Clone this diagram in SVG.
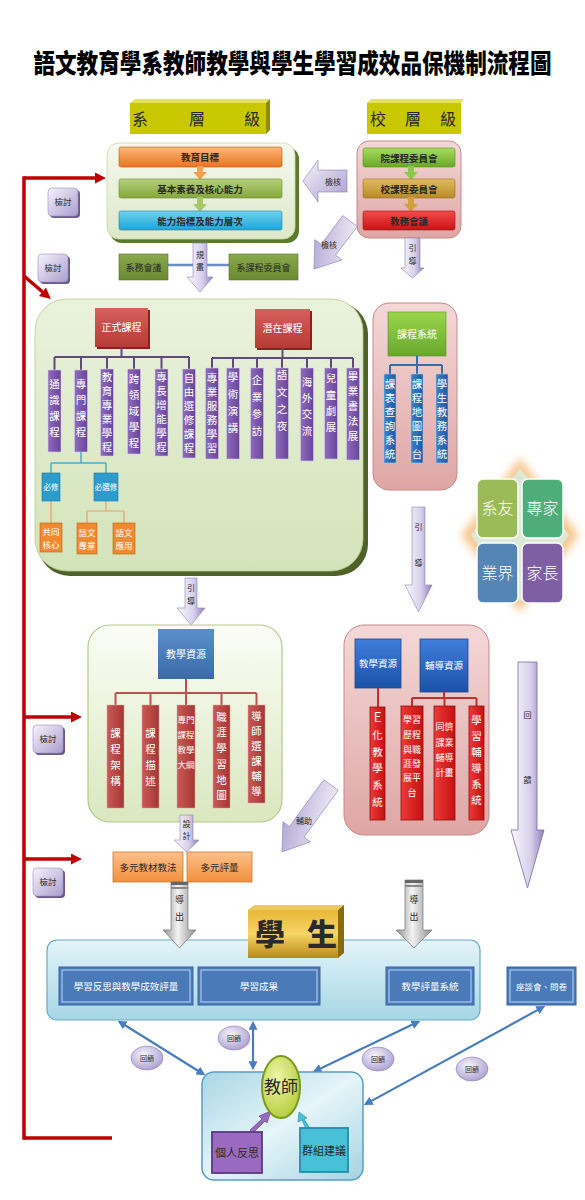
<svg xmlns="http://www.w3.org/2000/svg" width="585" height="1200" viewBox="0 0 585 1200">
<style>
text{font-family:"Noto Sans CJK TC","Noto Sans CJK SC",sans-serif;}
.w{fill:#fff;text-anchor:middle}
.d{fill:#2a2a2a;text-anchor:middle}
.vt{fill:#fff;text-anchor:middle;font-size:10.5px}
.col{stroke:#d8cce8;stroke-width:0.6}
</style>
<defs>
<linearGradient id="lav" x1="0" y1="0" x2="1" y2="1"><stop offset="0" stop-color="#f7f4fc"/><stop offset="1" stop-color="#a99dce"/></linearGradient>
<linearGradient id="lavH" x1="0" x2="1"><stop offset="0" stop-color="#fbf9fe"/><stop offset="0.6" stop-color="#d6cfea"/><stop offset="1" stop-color="#8f80bd"/></linearGradient>
<linearGradient id="gray" x1="0" x2="1"><stop offset="0" stop-color="#8c8c8c"/><stop offset="0.45" stop-color="#f4f4f4"/><stop offset="1" stop-color="#8c8c8c"/></linearGradient>
<linearGradient id="gLt" x1="0" y1="0" x2="0" y2="1"><stop offset="0" stop-color="#f6f9ef"/><stop offset="1" stop-color="#dde8c8"/></linearGradient>
<linearGradient id="gBig" x1="0" y1="0" x2="0" y2="1"><stop offset="0" stop-color="#eaf2dd"/><stop offset="1" stop-color="#d3e3b9"/></linearGradient>
<linearGradient id="gLt2" x1="0" y1="0" x2="0" y2="1"><stop offset="0" stop-color="#fbfdf6"/><stop offset="1" stop-color="#dae7bf"/></linearGradient>
<linearGradient id="pink" x1="0" y1="0" x2="0" y2="1"><stop offset="0" stop-color="#f3d8d7"/><stop offset="1" stop-color="#dea6a5"/></linearGradient>
<linearGradient id="sky" x1="0" y1="0" x2="0" y2="1"><stop offset="0" stop-color="#e3f4f9"/><stop offset="1" stop-color="#a6d6e5"/></linearGradient>
<linearGradient id="teach" x1="0" y1="0" x2="1" y2="1"><stop offset="0" stop-color="#a8d6e4"/><stop offset="0.5" stop-color="#e6f5f9"/><stop offset="1" stop-color="#a3d3e2"/></linearGradient>
<linearGradient id="oBar" x1="0" y1="0" x2="0" y2="1"><stop offset="0" stop-color="#fcb879"/><stop offset="1" stop-color="#ea7420"/></linearGradient>
<linearGradient id="gBar" x1="0" y1="0" x2="0" y2="1"><stop offset="0" stop-color="#b5d07a"/><stop offset="1" stop-color="#86a83e"/></linearGradient>
<linearGradient id="cBar" x1="0" y1="0" x2="0" y2="1"><stop offset="0" stop-color="#6fd2f0"/><stop offset="1" stop-color="#1fa5d5"/></linearGradient>
<linearGradient id="ygBar" x1="0" y1="0" x2="0" y2="1"><stop offset="0" stop-color="#a8dc60"/><stop offset="1" stop-color="#68a828"/></linearGradient>
<linearGradient id="goBar" x1="0" y1="0" x2="0" y2="1"><stop offset="0" stop-color="#e2bc60"/><stop offset="1" stop-color="#b88a28"/></linearGradient>
<linearGradient id="rBar" x1="0" y1="0" x2="0" y2="1"><stop offset="0" stop-color="#f44a4a"/><stop offset="1" stop-color="#c81414"/></linearGradient>
<linearGradient id="rBox" x1="0" y1="0" x2="0" y2="1"><stop offset="0" stop-color="#d6605c"/><stop offset="1" stop-color="#b83a36"/></linearGradient>
<linearGradient id="purp" x1="0" x2="1"><stop offset="0" stop-color="#8e6cbc"/><stop offset="1" stop-color="#6a449c"/></linearGradient>
<linearGradient id="bCol" x1="0" x2="1"><stop offset="0" stop-color="#3a82cc"/><stop offset="1" stop-color="#1f5aa0"/></linearGradient>
<linearGradient id="grBox" x1="0" y1="0" x2="0" y2="1"><stop offset="0" stop-color="#9ad64c"/><stop offset="1" stop-color="#68a82c"/></linearGradient>
<linearGradient id="bBox" x1="0" y1="0" x2="0" y2="1"><stop offset="0" stop-color="#5b8fcc"/><stop offset="1" stop-color="#3a6aa8"/></linearGradient>
<linearGradient id="bBox2" x1="0" y1="0" x2="0" y2="1"><stop offset="0" stop-color="#3f7edc"/><stop offset="1" stop-color="#1c52a8"/></linearGradient>
<linearGradient id="rCol" x1="0" x2="1"><stop offset="0" stop-color="#c85a56"/><stop offset="1" stop-color="#a63634"/></linearGradient>
<linearGradient id="rCol2" x1="0" x2="1"><stop offset="0" stop-color="#f03838"/><stop offset="1" stop-color="#c41212"/></linearGradient>
<linearGradient id="o2" x1="0" y1="0" x2="0" y2="1"><stop offset="0" stop-color="#fcc08a"/><stop offset="1" stop-color="#f2903e"/></linearGradient>
<linearGradient id="gold" x1="0" y1="0" x2="0" y2="1"><stop offset="0" stop-color="#e8b838"/><stop offset="0.5" stop-color="#f6d466"/><stop offset="1" stop-color="#b88a18"/></linearGradient>
<linearGradient id="olive" x1="0" y1="0" x2="0" y2="1"><stop offset="0" stop-color="#8aa84c"/><stop offset="1" stop-color="#6a8a30"/></linearGradient>
<radialGradient id="lavR" cx="0.4" cy="0.35" r="0.7"><stop offset="0" stop-color="#f6f3fb"/><stop offset="1" stop-color="#aa9ecf"/></radialGradient>
<radialGradient id="teacher" cx="0.4" cy="0.35" r="0.7"><stop offset="0" stop-color="#eef6a8"/><stop offset="1" stop-color="#b4cc3a"/></radialGradient>
<filter id="blur" x="-20%" y="-20%" width="140%" height="140%"><feGaussianBlur stdDeviation="4"/></filter>
<marker id="rh" viewBox="0 0 10 10" refX="3" refY="5" markerWidth="11" markerHeight="11" markerUnits="userSpaceOnUse" orient="auto"><path d="M0,0 L10,5 L0,10 z" fill="#c00000"/></marker>
<marker id="bh" viewBox="0 0 10 10" refX="3" refY="5" markerWidth="9" markerHeight="9" markerUnits="userSpaceOnUse" orient="auto-start-reverse"><path d="M0,0 L10,5 L0,10 z" fill="#4a7cc0"/></marker>
</defs>

<rect width="585" height="1200" fill="#fff"/>

<g id="title">
<text x="292.5" y="61" transform="scale(1,1.2)" font-size="21.6" font-weight="900" fill="#000" text-anchor="middle">語文教育學系教師教學與學生學習成效品保機制流程圖</text>
</g>

<!-- connectors -->
<g id="connectors">
<g fill="none" stroke="#c00000" stroke-width="3.5">
<path d="M24,178 V1138" stroke-linecap="square"/>
<line x1="24" y1="178" x2="98.3" y2="178" marker-end="url(#rh)"/>
<line x1="24" y1="276" x2="45" y2="294" marker-end="url(#rh)"/>
<line x1="24" y1="717" x2="74.3" y2="717" marker-end="url(#rh)"/>
<line x1="24" y1="859" x2="74.3" y2="859" marker-end="url(#rh)"/>
<line x1="24" y1="1138" x2="112" y2="1138"/>
</g>
<g fill="none" stroke="#4a7cc0" stroke-width="2.2">
<line x1="123" y1="1024" x2="200" y2="1072" marker-start="url(#bh)" marker-end="url(#bh)"/>
<line x1="253" y1="1027" x2="253" y2="1064" marker-start="url(#bh)" marker-end="url(#bh)"/>
<line x1="414.6" y1="1023.6" x2="318.4" y2="1069.4" marker-start="url(#bh)" marker-end="url(#bh)"/>
<line x1="539.7" y1="1008.9" x2="369.3" y2="1102.1" marker-start="url(#bh)" marker-end="url(#bh)"/>
</g>
</g>

<g id="review-labels" font-size="8.5">
<rect x="50" y="190" width="30" height="28" rx="4" fill="#6a5a8a"/>
<rect x="48" y="188" width="30" height="28" rx="4" fill="url(#lav)" stroke="#9a8ec0" stroke-width="0.6"/>
<text x="63" y="205" class="d">檢討</text>
<rect x="40" y="256" width="30" height="28" rx="4" fill="#6a5a8a"/>
<rect x="38" y="254" width="30" height="28" rx="4" fill="url(#lav)" stroke="#9a8ec0" stroke-width="0.6"/>
<text x="53" y="271" class="d">檢討</text>
<rect x="35" y="727" width="30" height="28" rx="4" fill="#6a5a8a"/>
<rect x="33" y="725" width="30" height="28" rx="4" fill="url(#lav)" stroke="#9a8ec0" stroke-width="0.6"/>
<text x="48" y="742" class="d">檢討</text>
<rect x="35" y="870" width="30" height="28" rx="4" fill="#6a5a8a"/>
<rect x="33" y="868" width="30" height="28" rx="4" fill="url(#lav)" stroke="#9a8ec0" stroke-width="0.6"/>
<text x="48" y="885" class="d">檢討</text>
</g>

<g id="dept-level">
<polygon points="130,103 135,99 270,99 266,103" fill="#e4e35a"/>
<polygon points="266,103 270,99 270,130 266,134" fill="#8f8e00"/>
<rect x="130" y="103" width="136" height="31" fill="#c9c800"/>
<g font-size="16"><text x="140" y="125" class="d">系</text><text x="197" y="125" class="d">層</text><text x="252" y="125" class="d">級</text></g>
</g>

<g id="school-level">
<polygon points="367,103 371,99 464,99 461,103" fill="#e4e35a"/>
<rect x="367" y="103" width="94" height="31" fill="#c9c800"/>
<g font-size="16"><text x="378" y="125" class="d">校</text><text x="413" y="125" class="d">層</text><text x="448" y="125" class="d">級</text></g>
</g>

<g id="dept-box">
<rect x="110" y="147" width="189" height="96" rx="12" fill="#5c7a2e"/>
<rect x="107" y="143" width="188" height="96" rx="12" fill="url(#gLt)" stroke="#c8d8a8" stroke-width="0.8"/>
<rect x="119" y="147" width="163" height="20" rx="2" fill="url(#oBar)" stroke="#c05a10" stroke-width="0.6"/>
<text x="200" y="161" class="d" font-size="9.5" font-weight="bold">教育目標</text>
<path d="M197,166 H203 V172 H207 L200,180 L193,172 H197 Z" fill="#f5a050"/>
<rect x="119" y="179" width="163" height="19" rx="2" fill="url(#gBar)" stroke="#6a8a30" stroke-width="0.6"/>
<text x="200" y="192.5" class="d" font-size="9.5" font-weight="bold">基本素養及核心能力</text>
<path d="M197,197 H203 V204 H207 L200,212 L193,204 H197 Z" fill="#a8c868"/>
<rect x="119" y="211" width="163" height="19" rx="2" fill="url(#cBar)" stroke="#1a85b0" stroke-width="0.6"/>
<text x="200" y="224.5" class="d" font-size="9.5" font-weight="bold">能力指標及能力層次</text>
</g>

<g id="school-box">
<rect x="357" y="141" width="104" height="97" rx="12" fill="url(#pink)" stroke="#c88a8a" stroke-width="1"/>
<rect x="363" y="148" width="92" height="19" rx="2" fill="url(#ygBar)" stroke="#5a9020" stroke-width="0.6"/>
<text x="409" y="161.5" class="d" font-size="9.5" font-weight="bold">院課程委員會</text>
<path d="M408,166 H414 V172 H418 L411,180 L404,172 H408 Z" fill="#8cc850"/>
<rect x="363" y="179" width="92" height="19" rx="2" fill="url(#goBar)" stroke="#9a7020" stroke-width="0.6"/>
<text x="409" y="192.5" class="d" font-size="9.5" font-weight="bold">校課程委員會</text>
<path d="M408,197 H414 V204 H418 L411,212 L404,204 H408 Z" fill="#d0a040"/>
<rect x="363" y="211" width="92" height="19" rx="2" fill="url(#rBar)" stroke="#a01010" stroke-width="0.6"/>
<text x="409" y="224.5" class="d" font-size="9.5" font-weight="bold">教務會議</text>
</g>

<g id="check-arrow-1">
<path d="M347,170 V192 H318 V202 L303,181 L318,160 V170 Z" fill="url(#lav)" stroke="#8a7fb5" stroke-width="0.6"/>
<text x="333" y="184.5" class="d" font-size="8">檢核</text>
</g>
<g id="check-arrow-2">
<path transform="translate(350,221) rotate(126.87)" d="M0,-9 H36 V-17 L60,0 L36,17 V9 H0 Z" fill="url(#lav)" stroke="#8a7fb5" stroke-width="0.6"/>
<text x="329" y="248" class="d" font-size="8">檢核</text>
</g>
<g id="guide-arrow-1">
<path d="M405,238 H420 V268 H424 L412.5,278 L401,268 H405 Z" fill="url(#lavH)" stroke="#8a7fb5" stroke-width="0.6"/>
<text x="412.5" y="251" class="d" font-size="8">引</text>
<text x="412.5" y="264" class="d" font-size="8">導</text>
</g>

<g id="dept-meeting">
<line x1="168" y1="265" x2="229" y2="265" stroke="#6a8fc8" stroke-width="2.5"/>
<rect x="119" y="254" width="49" height="26" fill="url(#olive)" stroke="#5a7028" stroke-width="0.6"/>
<text x="143.5" y="270.5" class="d" font-size="9">系務會議</text>
<rect x="229" y="254" width="69" height="26" fill="url(#olive)" stroke="#5a7028" stroke-width="0.6"/>
<text x="263.5" y="270.5" class="d" font-size="9">系課程委員會</text>
</g>
<g id="plan-arrow">
<path d="M193,243 H207 V277 H213 L200,292 L187,277 H193 Z" fill="url(#lavH)" stroke="#8a7fb5" stroke-width="0.6"/>
<text x="200" y="258" class="d" font-size="8">規</text>
<text x="200" y="270" class="d" font-size="8">畫</text>
</g>

<g id="curriculum-box">
<rect x="38" y="302" width="330" height="274" rx="32" fill="#4f6228"/>
<rect x="35" y="299" width="328" height="272" rx="32" fill="url(#gBig)" stroke="#b8cc90" stroke-width="0.8"/>
</g>

<g id="formal">
<rect x="97" y="310" width="53" height="39" fill="#8a2020"/>
<rect x="95" y="308" width="53" height="39" fill="url(#rBox)"/>
<text x="121.5" y="331" class="w" font-size="10">正式課程</text>
<path d="M121.5,347 V357 M54.5,357 H189 M54.5,357 V370 M81,357 V370 M107,357 V369 M134,357 V369 M161.5,357 V369 M189,357 V369" fill="none" stroke="#604a7b" stroke-width="2"/>
<rect x="48" y="370" width="13" height="82" fill="url(#purp)" class="col"/>
<text class="vt" x="54.5 54.5 54.5 54.5" y="388 404 420 436">通識課程</text>
<rect x="74.5" y="370" width="13" height="82" fill="url(#purp)" class="col"/>
<text class="vt" x="81 81 81 81" y="388 404 420 436">專門課程</text>
<rect x="100.5" y="369" width="13" height="87" fill="url(#purp)" class="col"/>
<text class="vt" x="107 107 107 107 107 107" y="381 395 409 423 437 451">教育專業學程</text>
<rect x="127.5" y="369" width="13" height="85" fill="url(#purp)" class="col"/>
<text class="vt" x="134 134 134 134 134" y="383 399 415 431 447">跨領域學程</text>
<rect x="155" y="369" width="13" height="87" fill="url(#purp)" class="col"/>
<text class="vt" x="161.5 161.5 161.5 161.5 161.5 161.5" y="381 395 409 423 437 451">專長增能學程</text>
<rect x="182.5" y="369" width="13" height="89" fill="url(#purp)" class="col"/>
<text class="vt" x="189 189 189 189 189 189" y="382 396 410 424 438 452">自由選修課程</text>
</g>

<g id="hidden">
<rect x="257" y="311" width="55" height="39" fill="#8a2020"/>
<rect x="255" y="309" width="55" height="39" fill="url(#rBox)"/>
<text x="282.5" y="332" class="w" font-size="10">潛在課程</text>
<path d="M282.5,348 V358 M212,358 H353 M212,358 V368 M233,358 V368 M257,358 V368 M282,358 V368 M307,358 V368 M331,358 V368 M353,358 V368" fill="none" stroke="#604a7b" stroke-width="2"/>
<rect x="205.5" y="368" width="13" height="91" fill="url(#purp)" class="col"/>
<text class="vt" x="212 212 212 212 212 212" y="382 396 410 424 438 452">專業服務學習</text>
<rect x="226.5" y="368" width="13" height="91" fill="url(#purp)" class="col"/>
<text class="vt" x="233 233 233 233" y="381 398 415 432">學術演講</text>
<rect x="250.5" y="368" width="13" height="91" fill="url(#purp)" class="col"/>
<text class="vt" x="257 257 257 257" y="384 401 418 435">企業參訪</text>
<rect x="275.5" y="368" width="13" height="91" fill="url(#purp)" class="col"/>
<text class="vt" x="282 282 282 282" y="379 396 413 430">語文之夜</text>
<rect x="300.5" y="368" width="13" height="93" fill="url(#purp)" class="col"/>
<text class="vt" x="307 307 307 307" y="386 402 418 435">海外交流</text>
<rect x="324.5" y="368" width="13" height="91" fill="url(#purp)" class="col"/>
<text class="vt" x="331 331 331 331" y="382 399 415 431">兒童劇展</text>
<rect x="346.5" y="368" width="13" height="92" fill="url(#purp)" class="col"/>
<text class="vt" x="353 353 353 353 353" y="380 395 410 425 440">畢業書法展</text>
</g>

<g id="required">
<path d="M81,452 V463 M51,463 H106 M51,463 V473 M106,463 V473" fill="none" stroke="#4bacc6" stroke-width="1.5"/>
<path d="M51,501 V523 M106,501 V511 M87,511 H124 M87,511 V523 M124,511 V523" fill="none" stroke="#e8a060" stroke-width="1.2"/>
<rect x="42" y="473" width="18" height="28" fill="#2c9ccc" stroke="#1a7aa8" stroke-width="0.6"/>
<text x="51" y="490" class="w" font-size="7.5">必修</text>
<rect x="94" y="473" width="24" height="28" fill="#2c9ccc" stroke="#1a7aa8" stroke-width="0.6"/>
<text x="106" y="490" class="w" font-size="7.5">必選修</text>
<rect x="40" y="523" width="22" height="29" fill="#f08a30" stroke="#c06010" stroke-width="0.6"/>
<text x="51" y="535" class="w" font-size="8.5">共同</text>
<text x="51" y="548" class="w" font-size="8.5">核心</text>
<rect x="77" y="523" width="20" height="31" fill="#f08a30" stroke="#c06010" stroke-width="0.6"/>
<text x="87" y="536" class="w" font-size="8.5">語文</text>
<text x="87" y="549" class="w" font-size="8.5">專業</text>
<rect x="113" y="523" width="22" height="31" fill="#f08a30" stroke="#c06010" stroke-width="0.6"/>
<text x="124" y="536" class="w" font-size="8.5">語文</text>
<text x="124" y="549" class="w" font-size="8.5">應用</text>
</g>

<g id="course-system">
<rect x="373" y="303" width="84" height="187" rx="16" fill="url(#pink)" stroke="#c88a8a" stroke-width="1"/>
<rect x="388" y="312" width="58" height="44" fill="url(#grBox)" stroke="#5a9020" stroke-width="0.6"/>
<text x="417" y="338" class="w" font-size="10">課程系統</text>
<path d="M417,356 V365 M390,365 H442 M390,365 V374 M417,365 V374 M442,365 V374" fill="none" stroke="#2e6fb0" stroke-width="2"/>
<rect x="384" y="374" width="12" height="89" fill="url(#bCol)" stroke="#a8c8e8" stroke-width="0.6"/>
<text class="vt" x="390 390 390 390 390 390" y="388 402 416 430 444 458">課表查詢系統</text>
<rect x="411" y="374" width="12" height="89" fill="url(#bCol)" stroke="#a8c8e8" stroke-width="0.6"/>
<text class="vt" x="417 417 417 417 417 417" y="388 402 416 430 444 458">課程地圖平台</text>
<rect x="436" y="374" width="12" height="89" fill="url(#bCol)" stroke="#a8c8e8" stroke-width="0.6"/>
<text class="vt" x="442 442 442 442 442 442" y="388 402 416 430 444 458">學生教務系統</text>
</g>

<g id="guide-arrow-2">
<path d="M412,507 H425 V585 H432 L418.5,612 L405,585 H412 Z" fill="url(#lavH)" stroke="#8a7fb5" stroke-width="0.6"/>
<text x="418.5" y="530" class="d" font-size="8">引</text>
<text x="418.5" y="566" class="d" font-size="8">導</text>
</g>

<g id="stakeholders">
<polygon points="520,458 579,535 520,612 461,535" fill="#f8c890" filter="url(#blur)"/>
<polygon points="520,468 569,535 520,602 471,535" fill="#dde8d6"/>
<rect x="477" y="479" width="41" height="59" rx="6" fill="#9bbb59" stroke="#fff" stroke-width="1.5"/>
<text x="497.5" y="514" class="w" font-size="16" font-weight="300">系友</text>
<rect x="522" y="479" width="41" height="59" rx="6" fill="#4fad7a" stroke="#fff" stroke-width="1.5"/>
<text x="542.5" y="514" class="w" font-size="16" font-weight="300">專家</text>
<rect x="477" y="543" width="41" height="60" rx="6" fill="#5585b5" stroke="#fff" stroke-width="1.5"/>
<text x="497.5" y="579" class="w" font-size="16" font-weight="300">業界</text>
<rect x="522" y="543" width="41" height="60" rx="6" fill="#7f5fa3" stroke="#fff" stroke-width="1.5"/>
<text x="542.5" y="579" class="w" font-size="16" font-weight="300">家長</text>
</g>

<g id="guide-arrow-3">
<path d="M185,578 H197 V608 H205 L191,625 L177,608 H185 Z" fill="url(#lavH)" stroke="#8a7fb5" stroke-width="0.6"/>
<text x="191" y="591" class="d" font-size="8">引</text>
<text x="191" y="604" class="d" font-size="8">導</text>
</g>

<g id="teaching-resources">
<rect x="88" y="625" width="194" height="197" rx="22" fill="url(#gLt2)" stroke="#b5c98a" stroke-width="1.2"/>
<rect x="158" y="629" width="56" height="50" fill="url(#bBox)"/>
<text x="186" y="658" class="w" font-size="10">教學資源</text>
<path d="M186,679 V693 M115.5,693 H256.5 M115.5,693 V705 M150.5,693 V705 M186,693 V705 M221.5,693 V705 M256.5,693 V705" fill="none" stroke="#c0504d" stroke-width="2"/>
<rect x="107" y="705" width="17" height="103" fill="url(#rCol)" stroke="#e0a0a0" stroke-width="0.5"/>
<text class="vt" x="115.5 115.5 115.5 115.5" y="737 753 769 785">課程架構</text>
<rect x="142" y="705" width="17" height="103" fill="url(#rCol)" stroke="#e0a0a0" stroke-width="0.5"/>
<text class="vt" x="150.5 150.5 150.5 150.5" y="737 753 769 785">課程描述</text>
<rect x="177" y="705" width="18" height="103" fill="url(#rCol)" stroke="#e0a0a0" stroke-width="0.5"/>
<g font-size="8.5"><text x="186" y="723" class="w">專門</text><text x="186" y="738" class="w">課程</text><text x="186" y="753" class="w">教學</text><text x="186" y="768" class="w">大綱</text></g>
<rect x="213" y="705" width="17" height="103" fill="url(#rCol)" stroke="#e0a0a0" stroke-width="0.5"/>
<text class="vt" x="221.5 221.5 221.5 221.5 221.5 221.5" y="721 736 752 768 784 799">職涯學習地圖</text>
<rect x="248" y="705" width="17" height="98" fill="url(#rCol)" stroke="#e0a0a0" stroke-width="0.5"/>
<text class="vt" x="256.5 256.5 256.5 256.5 256.5 256.5" y="720 735 750 765 780 795">導師選課輔導</text>
</g>

<g id="support-resources">
<rect x="344" y="625" width="145" height="210" rx="20" fill="url(#pink)" stroke="#c88a8a" stroke-width="1"/>
<rect x="355" y="639" width="46" height="49" fill="url(#bBox2)" stroke="#1a4a90" stroke-width="0.8"/>
<text x="378" y="667" class="w" font-size="9.5">教學資源</text>
<rect x="420" y="639" width="48" height="53" fill="url(#bBox2)" stroke="#1a4a90" stroke-width="0.8"/>
<text x="444" y="669" class="w" font-size="9.5">輔導資源</text>
<path d="M378,688 V707 M444,692 V698 M412,698 H476.5 M412,698 V706 M444.5,698 V706 M476.5,698 V706" fill="none" stroke="#c03030" stroke-width="2"/>
<rect x="370" y="707" width="15" height="113" fill="url(#rCol2)" stroke="#901010" stroke-width="0.8"/>
<text x="377.5" y="722" class="w" font-size="13">E</text>
<text class="vt" x="377.5 377.5 377.5 377.5 377.5" y="739 756 772 789 806" font-size="11">化教學系統</text>
<rect x="401" y="706" width="22" height="114" fill="url(#rCol2)" stroke="#901010" stroke-width="0.8"/>
<g font-size="9"><text x="412" y="723" class="w">學習</text><text x="412" y="738" class="w">歷程</text><text x="412" y="753" class="w">與職</text><text x="412" y="767" class="w">涯發</text><text x="412" y="781" class="w">展平</text><text x="412" y="796" class="w">台</text></g>
<rect x="434" y="706" width="21" height="114" fill="url(#rCol2)" stroke="#901010" stroke-width="0.8"/>
<g font-size="9"><text x="444.5" y="730" class="w">同儕</text><text x="444.5" y="746" class="w">課業</text><text x="444.5" y="761" class="w">輔導</text><text x="444.5" y="776" class="w">計畫</text></g>
<rect x="469" y="706" width="15" height="114" fill="url(#rCol2)" stroke="#901010" stroke-width="0.8"/>
<text class="vt" x="476.5 476.5 476.5 476.5 476.5 476.5" y="724 740 756 772 788 804">學習輔導系統</text>
</g>

<g id="feedback-arrow">
<path d="M518,662 H537 V830 H544 L527.5,888 L511,830 H518 Z" fill="url(#lavH)" stroke="#7a6aa8" stroke-width="0.8"/>
<text x="527.5" y="718" class="d" font-size="8">回</text>
<text x="527.5" y="783" class="d" font-size="8">饋</text>
</g>

<g id="assist-arrow">
<path transform="translate(331,785) rotate(126.2)" d="M0,-9 H58 V-17 L83,0 L58,17 V9 H0 Z" fill="url(#lav)" stroke="#8a7fb5" stroke-width="0.6"/>
<text x="304" y="824" class="d" font-size="8">輔助</text>
</g>

<g id="design-arrow">
<path d="M180,815 H193 V840 H199 L186.5,852 L174,840 H180 Z" fill="url(#lavH)" stroke="#8a7fb5" stroke-width="0.6"/>
<text x="186.5" y="827" class="d" font-size="8">設</text>
<text x="186.5" y="839" class="d" font-size="8">計</text>
</g>

<g id="methods">
<rect x="113" y="852" width="70" height="30" fill="url(#o2)" stroke="#d07a30" stroke-width="0.8"/>
<text x="148" y="871" class="d" font-size="9.5">多元教材教法</text>
<rect x="187" y="852" width="65" height="30" fill="url(#o2)" stroke="#d07a30" stroke-width="0.8"/>
<text x="219.5" y="871" class="d" font-size="9.5">多元評量</text>
</g>

<g id="student">
<rect x="47" y="940" width="433" height="80" rx="10" fill="url(#sky)" stroke="#6aaac8" stroke-width="1.2"/>
<rect x="59" y="967" width="134" height="38" fill="#4a7ab8" stroke="#3a62a0"/>
<rect x="62" y="970" width="128" height="32" fill="none" stroke="#a9c8ee" stroke-width="1.2"/>
<text x="126" y="990" class="w" font-size="9.5">學習反思與教學成效評量</text>
<rect x="198" y="967" width="122" height="38" fill="#4a7ab8" stroke="#3a62a0"/>
<rect x="201" y="970" width="116" height="32" fill="none" stroke="#a9c8ee" stroke-width="1.2"/>
<text x="259" y="990" class="w" font-size="9.5">學習成果</text>
<rect x="386" y="967" width="88" height="38" fill="#4a7ab8" stroke="#3a62a0"/>
<rect x="389" y="970" width="82" height="32" fill="none" stroke="#a9c8ee" stroke-width="1.2"/>
<text x="430" y="990" class="w" font-size="9.5">教學評量系統</text>
</g>
<g id="survey">
<rect x="507" y="967" width="69" height="38" fill="#4a7ab8" stroke="#3a62a0"/>
<rect x="510" y="970" width="63" height="32" fill="none" stroke="#a9c8ee" stroke-width="1.2"/>
<text x="541.5" y="990" class="w" font-size="8.5">座談會、問卷</text>
</g>

<g id="export-arrows">
<path d="M171,882 H188 V930 H196 L179.5,948 L163,930 H171 Z" fill="url(#gray)" stroke="#777" stroke-width="0.7"/>
<rect x="171" y="882" width="17" height="3" fill="#666"/>
<rect x="171" y="887" width="17" height="2" fill="#888"/>
<text x="179.5" y="903" class="d" font-size="9">導</text>
<text x="179.5" y="920" class="d" font-size="9">出</text>
<path d="M405,880 H423 V930 H432 L414,948 L396,930 H405 Z" fill="url(#gray)" stroke="#777" stroke-width="0.7"/>
<rect x="405" y="880" width="18" height="3" fill="#666"/>
<rect x="405" y="885" width="18" height="2" fill="#888"/>
<text x="414" y="903" class="d" font-size="9">導</text>
<text x="414" y="920" class="d" font-size="9">出</text>
</g>

<g id="student-title">
<polygon points="248,910 254,905 344,905 338,910" fill="#ecc860"/>
<polygon points="338,910 344,905 344,953 338,958" fill="#8a6a10"/>
<rect x="248" y="910" width="90" height="48" fill="url(#gold)"/>
<text x="270" y="945" class="d" font-size="30" font-weight="900" fill="#111">學</text>
<text x="322" y="945" class="d" font-size="30" font-weight="900" fill="#111">生</text>
</g>

<g id="feedback-labels" font-size="7">
<ellipse cx="147" cy="1058" rx="16" ry="12" fill="url(#lavR)" stroke="#8a7cb8" stroke-width="0.6"/>
<text x="147" y="1060.5" class="d">回饋</text>
<ellipse cx="234" cy="1038" rx="16" ry="12" fill="url(#lavR)" stroke="#8a7cb8" stroke-width="0.6"/>
<text x="234" y="1040.5" class="d">回饋</text>
<ellipse cx="378" cy="1059" rx="16" ry="12" fill="url(#lavR)" stroke="#8a7cb8" stroke-width="0.6"/>
<text x="378" y="1061.5" class="d">回饋</text>
<ellipse cx="472" cy="1069" rx="16" ry="12" fill="url(#lavR)" stroke="#8a7cb8" stroke-width="0.6"/>
<text x="472" y="1071.5" class="d">回饋</text>
</g>

<g id="teacher">
<rect x="202" y="1072" width="161" height="108" rx="12" fill="url(#teach)" stroke="#5a9fc0" stroke-width="1.5"/>
<path d="M250,1130 L262,1119 L259,1116 L271,1111 L267,1123 L265,1121 L253,1133 Z" fill="#9a6ac0" stroke="#5a3a80" stroke-width="0.6"/>
<path d="M306,1129 L302,1120 L298,1122 L299,1112 L307,1118 L304,1119 L309,1127 Z" fill="#48c0d8" stroke="#2a8aa8" stroke-width="0.6"/>
<ellipse cx="281" cy="1087" rx="19" ry="31" fill="url(#teacher)" stroke="#7a9a20" stroke-width="2"/>
<text x="281" y="1093" class="d" font-size="17" fill="#1a3a10">教師</text>
<rect x="212" y="1132" width="50" height="41" fill="#9a6ac0" stroke="#5a3a80" stroke-width="1.8"/>
<text x="237" y="1157" class="d" font-size="11">個人反思</text>
<rect x="300" y="1128" width="48" height="44" fill="#48c0d8" stroke="#2a8aa8" stroke-width="1.8"/>
<text x="324" y="1155" class="d" font-size="11">群組建議</text>
</g>
</svg>
